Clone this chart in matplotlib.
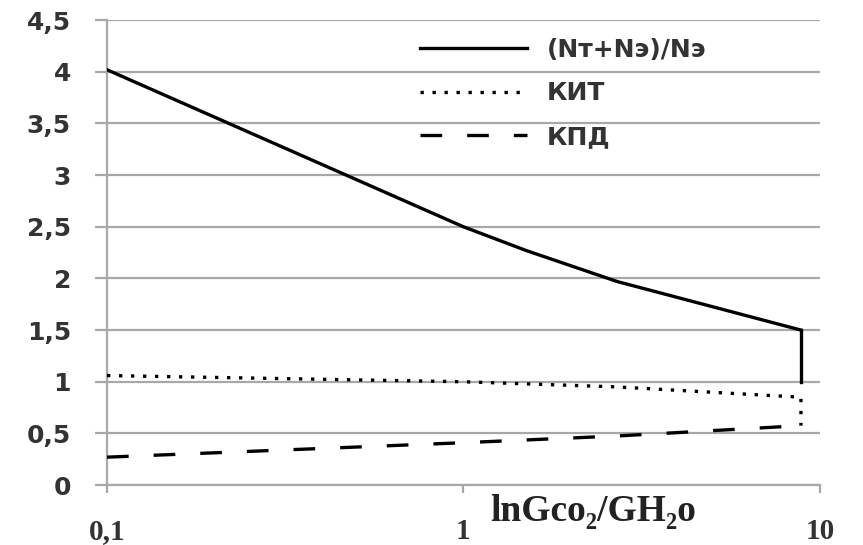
import numpy as np
import matplotlib.pyplot as plt
from matplotlib.ticker import FixedLocator, NullLocator

# --- data ---
x_ratio = [0.1, 1.0, 1.5, 2.7, 8.85]
ratio_n = [4.02, 2.5, 2.27, 1.97, 1.5]      # (Nт+Nэ)/Nэ

x_kit = [0.1, 1.0, 2.7, 8.85]
kit = [1.06, 1.0, 0.95, 0.85]               # КИТ

x_kpd = [0.1, 1.0, 2.7, 8.85]
kpd = [0.27, 0.41, 0.475, 0.575]            # КПД

x_end = 8.85
y_ticks = [0, 0.5, 1, 1.5, 2, 2.5, 3, 3.5, 4, 4.5]
y_ticklabels = ['0', '0,5', '1', '1,5', '2', '2,5', '3', '3,5', '4', '4,5']
x_ticks = [0.1, 1, 10]
x_ticklabels = ['0,1', '1', '10']

fig = plt.figure(figsize=(8.63, 5.45), dpi=100)
ax = fig.add_axes([0.124, 0.110, 0.826, 0.853])

lw = 2.4
ax.plot(x_ratio, ratio_n, color='black', lw=lw, solid_joinstyle='miter',
        label='(Nт+Nэ)/Nэ', zorder=3)
# vertical drop at the end of the solid curve
ax.plot([x_end, x_end], [ratio_n[-1], 1.0], color='black', lw=lw, zorder=3)

ax.plot(x_kit + [x_end], kit + [kpd[-1]], color='black', lw=lw,
        linestyle=(0, (1, 2.6)), label='КИТ', zorder=3)

ax.plot(x_kpd, kpd, color='black', lw=lw, linestyle=(0, (6.5, 7.5)),
        label='КПД', zorder=3)

ax.set_xscale('log')
ax.set_xlim(0.1, 10)
ax.set_ylim(0, 4.5)

ax.yaxis.set_major_locator(FixedLocator(y_ticks))
ax.set_yticklabels(y_ticklabels)
ax.xaxis.set_major_locator(FixedLocator(x_ticks))
ax.xaxis.set_minor_locator(NullLocator())
ax.set_xticklabels(x_ticklabels)

grid_c = '#a8a8a8'
ax.yaxis.grid(True, color=grid_c, lw=1.6)
ax.set_axisbelow(True)
for s in ['top', 'right']:
    ax.spines[s].set_visible(False)
for s in ['left', 'bottom']:
    ax.spines[s].set_color(grid_c)
    ax.spines[s].set_linewidth(1.6)

ax.tick_params(axis='y', length=9, width=1.6, color=grid_c, pad=17,
               labelsize=18, labelcolor='#333333')
ax.tick_params(axis='x', length=6, width=1.6, color=grid_c, pad=18,
               labelcolor='#333333')
for t in ax.get_yticklabels():
    t.set_fontweight('bold')
for t in ax.get_xticklabels():
    t.set_family(['Liberation Serif', 'DejaVu Serif'])
    t.set_fontsize(21)
    t.set_fontweight('bold')

ax.text(0.537, -0.02, 'lnGco₂/GH₂o', transform=ax.transAxes,
        family=['Liberation Serif', 'DejaVu Serif'], fontsize=27,
        fontweight='bold', color='#222222', ha='left', va='top')

leg = ax.legend(loc='upper left', bbox_to_anchor=(0.439, 0.962), frameon=False,
                prop={'size': 18, 'weight': 'bold'}, handlelength=4.3,
                handletextpad=0.76, labelspacing=0.78, borderpad=0,
                borderaxespad=0)
for t in leg.get_texts():
    t.set_color('#333333')

fig.savefig('out.png', dpi=100)
